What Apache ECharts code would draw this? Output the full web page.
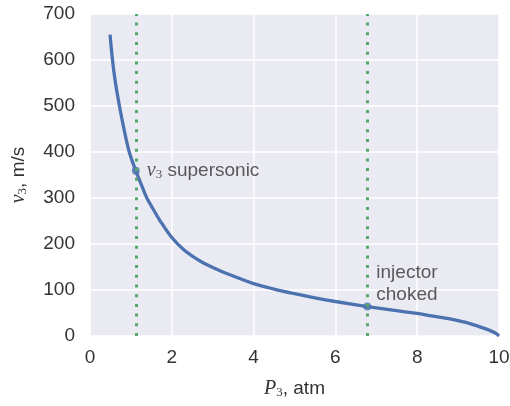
<!DOCTYPE html>
<html>
<head>
<meta charset="utf-8">
<script src="https://cdn.jsdelivr.net/npm/echarts@6/dist/echarts.min.js"></script>
<style>
  html, body { margin: 0; padding: 0; background: #fff; }
  #main { width: 510px; height: 406px; }
</style>
</head>
<body>
<div id="main"></div>
<script>
// values
var pressure = [0.49, 0.55, 0.62, 0.72, 0.84, 0.96, 1.12, 1.25, 1.39, 1.55, 1.71, 2.0, 2.3, 2.69, 3.0, 3.42, 4.0, 4.5, 5.0, 5.5, 6.0, 6.78, 7.58, 8.0, 8.4, 8.8, 9.29, 9.66, 9.9, 10];
var velocity = [655, 600, 552, 500, 446, 400, 359, 330, 300, 275, 251, 214, 187, 163, 149, 133, 114, 102, 92, 83, 75, 64, 54, 49, 43, 37, 27, 16, 7, 0];
var markX = [1.12, 6.78];
var markY = [359, 64];
var xTicks = [0, 2, 4, 6, 8, 10];
var yTicks = [0, 100, 200, 300, 400, 500, 600, 700];

var sans = 'Liberation Sans';
var serif = 'Liberation Serif';
var textColor = '#333';

var curve = pressure.map(function (p, i) { return [p, velocity[i]]; });

var mathRich = {
    m: { fontFamily: serif, fontStyle: 'italic', fontSize: 20, color: textColor },
    s: { fontFamily: serif, fontSize: 13, color: textColor, verticalAlign: 'bottom', padding: [8, 0, 0, 0] },
    t: { fontFamily: sans, fontSize: 19, color: textColor }
};

var chart = echarts.init(document.getElementById('main'));

var option = {
    animation: false,
    backgroundColor: '#fff',
    grid: {
        left: 90, right: 11, top: 14, bottom: 70,
        outerBoundsMode: 'none',
        show: true, backgroundColor: '#EAEAF2', borderWidth: 0
    },
    xAxis: {
        type: 'value',
        min: xTicks[0],
        max: xTicks[xTicks.length - 1],
        interval: 2,
        name: '{m|P}{s|3}{t|, atm}',
        nameLocation: 'middle',
        nameGap: 42,
        nameTextStyle: { rich: mathRich },
        axisLine: { show: false },
        axisTick: { show: false },
        axisLabel: { fontFamily: sans, fontSize: 19, color: textColor, margin: 12 },
        splitLine: { lineStyle: { color: '#fff', width: 1.5 } }
    },
    yAxis: {
        type: 'value',
        min: yTicks[0],
        max: yTicks[yTicks.length - 1],
        interval: 100,
        name: '{m|v}{s|3}{t|, m/s}',
        nameLocation: 'middle',
        nameGap: 61,
        nameRotate: 90,
        nameTextStyle: { rich: mathRich },
        axisLine: { show: false },
        axisTick: { show: false },
        axisLabel: { fontFamily: sans, fontSize: 19, color: textColor, margin: 15 },
        splitLine: { lineStyle: { color: '#fff', width: 1.5 } }
    },
    series: [
        {
            type: 'line',
            data: curve,
            smooth: 0.35,
            showSymbol: false,
            lineStyle: { color: '#4C72B0', width: 3.3 },
            markLine: {
                silent: true,
                symbol: 'none',
                label: { show: false },
                lineStyle: { color: '#55A868', width: 3, type: [3, 6.7], cap: 'butt' },
                data: markX.map(function (x) { return { xAxis: x }; })
            },
            z: 3
        },
        {
            type: 'scatter',
            symbolSize: 8,
            itemStyle: { color: '#4C72B0' },
            data: [
                {
                    value: [markX[0], markY[0]],
                    label: {
                        show: true, position: 'right', distance: 7,
                        formatter: '{m|v}{s|3}{t| supersonic}',
                        rich: mathRich
                    }
                },
                {
                    value: [markX[1], markY[1]],
                    label: {
                        show: true, position: 'right', distance: 5, offset: [0, -23],
                        formatter: 'injector\nchoked',
                        fontFamily: sans, fontSize: 19, color: textColor, lineHeight: 22
                    }
                }
            ],
            z: 4
        }
    ]
};

chart.setOption(option);
</script>
</body>
</html>
